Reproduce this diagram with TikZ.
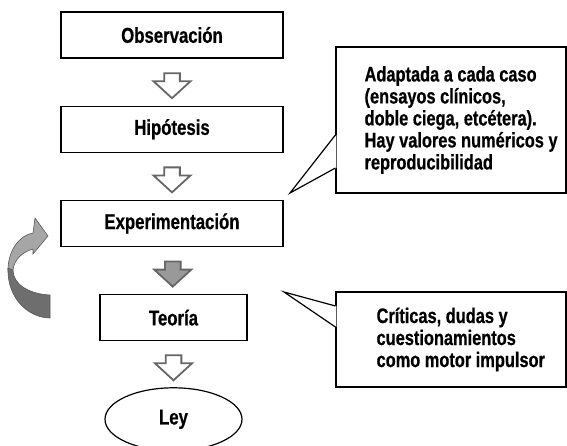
\documentclass[tikz,border=0pt]{standalone}
\usepackage{fontspec}
\setmainfont[FakeStretch=0.78,BoldFeatures={FakeBold=0.6}]{Liberation Sans}
\usetikzlibrary{positioning,calc,shapes.geometric,shapes.arrows}

\tikzstyle{paso} = [rectangle, draw, line width=1.2pt, minimum width=222pt, minimum height=46pt, inner sep=0pt, font=\fontsize{21.5}{22}\selectfont\bfseries]
\tikzstyle{ley} = [ellipse, draw, line width=1.2pt, minimum width=137pt, minimum height=63pt, inner sep=0pt, font=\fontsize{21.5}{22}\selectfont\bfseries]
\tikzstyle{flecha} = [single arrow, draw=black!60, line width=1.8pt, fill=white, shape border rotate=270, minimum height=25pt, minimum width=37pt, single arrow head extend=8pt, single arrow tip angle=95, inner sep=5pt]
\tikzstyle{nota} = [rectangle, draw, line width=1.2pt, inner sep=0pt]
\tikzstyle{notatexto} = [align=left, inner sep=0pt, font=\fontsize{21}{22}\selectfont\bfseries]

\begin{document}
\begin{tikzpicture}[x=1pt,y=-1pt]
\useasboundingbox (0,0) rectangle (567,446);
\node [paso] (obs) at (172,35) {Observación};
\node [paso, below=47pt of obs] (hip) {Hipótesis};
\node [paso, below=47pt of hip] (exp) {Experimentación};
\node [paso, minimum width=147pt, below=47pt of exp, xshift=1.5pt] (teo) {Teoría};
\node [ley, below=46pt of teo] (ley) {Ley};
\node [flecha] (f1) at ($(obs.south)!0.5!(hip.north)$) {};
\node [flecha] (f2) at ($(hip.south)!0.5!(exp.north)$) {};
\node [flecha, fill=black!40] (f3) at ($(exp.south)!0.5!(teo.north)$) {};
\node [flecha] (f4) at ($(teo.south)!0.5!(ley.north)$) {};

\node [nota, minimum width=230pt, minimum height=146pt] (n1) at (451,120) {};
\node [notatexto, right=29pt of n1.west] (t1) {Adaptada a cada caso\\(ensayos clínicos,\\doble ciega, etcétera).\\Hay valores numéricos y\\reproducibilidad};
\coordinate (p1) at (290,193);
\fill [white] ([shift={(1pt,-15pt)}]n1.west) -- (p1) -- ([shift={(1pt,-48pt)}]n1.west) -- cycle;
\draw [line width=1.2pt] ([yshift=-15pt]n1.west) -- (p1) -- ([yshift=-48pt]n1.west);

\node [nota, minimum width=230pt, minimum height=95pt] (n2) at (451,339.5) {};
\node [notatexto, right=41pt of n2.west] (t2) {Críticas, dudas y\\cuestionamientos\\como motor impulsor};
\coordinate (p2) at (284,292);
\fill [white] ([shift={(1pt,33.5pt)}]n2.west) -- (p2) -- ([shift={(1pt,12.5pt)}]n2.west) -- cycle;
\draw [line width=1.2pt] ([yshift=33.5pt]n2.west) -- (p2) -- ([yshift=12.5pt]n2.west);

\filldraw [fill=black!35, draw=black!65, line width=0.6pt] (8,270) .. controls (8,250) and (20,235) .. (33,233) -- (35,218) -- (48,236) -- (33,254) -- (33,249) .. controls (22,252) and (14,260) .. (13,270) -- cycle;
\filldraw [fill=black!57, draw=black!65, line width=0.6pt] (8,268) .. controls (7,300) and (30,318) .. (50,318) -- (50,295) .. controls (30,294) and (13,285) .. (13,270) -- cycle;
\end{tikzpicture}
\end{document}
